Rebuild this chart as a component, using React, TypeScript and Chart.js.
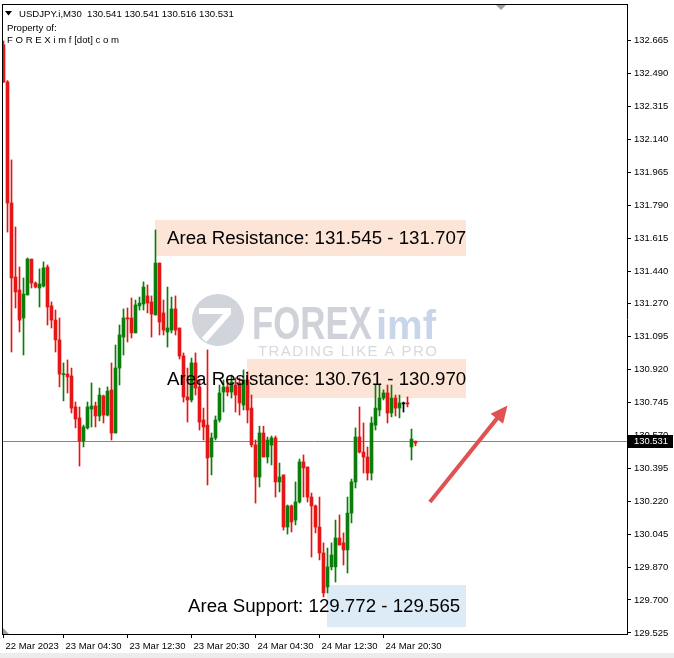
import React, { useEffect, useRef } from 'react';
import { Chart, registerables } from 'chart.js';

Chart.register(...registerables);

// ---------- DATA ----------
const symbolTitle = 'USDJPY.i,M30';
const lastQuote = ['130.541', '130.541', '130.516', '130.531'];
const propertyLines = ['Property of:', 'F O R E X i m f [dot] c o m'];

const opens = [
  132.639, 132.443, 131.802, 131.410, 131.341, 131.193, 131.315, 131.505, 131.378, 131.352,
  131.362, 131.463, 131.257, 131.182, 131.077, 130.893, 130.896, 130.886, 130.722, 130.664,
  130.542, 130.611, 130.711, 130.727, 130.674, 130.780, 130.679, 130.812, 130.584, 130.928,
  131.092, 131.193, 131.193, 131.114, 131.257, 131.267, 131.310, 131.278, 131.209, 131.484,
  131.220, 131.119, 131.129, 131.241, 131.140, 130.992, 130.775, 130.759, 130.955, 130.828,
  130.653, 130.626, 130.457, 130.558, 130.653, 130.801, 130.828, 130.801, 130.838, 130.849,
  130.732, 130.865, 130.716, 130.521, 130.351, 130.584, 130.457, 130.520, 130.558, 130.325,
  130.362, 130.086, 130.198, 130.123, 130.219, 130.431, 130.404, 130.245, 130.198, 130.086,
  129.949, 129.769, 129.875, 129.875, 130.028, 130.002, 129.965, 130.160, 130.325, 130.563,
  130.483, 130.457, 130.372, 130.626, 130.706, 130.769, 130.796, 130.690, 130.769, 130.716,
  130.738, 130.743, 130.510, 130.541,
];
const highs = [
  132.660, 132.450, 132.030, 131.675, 131.463, 131.405, 131.511, 131.505, 131.384, 131.453,
  131.490, 131.474, 131.278, 131.235, 131.193, 130.955, 130.971, 130.928, 130.748, 130.722,
  130.626, 130.748, 130.849, 130.748, 130.822, 130.785, 130.828, 130.955, 131.050, 131.156,
  131.241, 131.246, 131.299, 131.288, 131.304, 131.384, 131.368, 131.310, 131.659, 131.484,
  131.288, 131.357, 131.304, 131.310, 131.140, 131.008, 130.928, 130.981, 131.008, 130.865,
  130.716, 131.024, 130.584, 130.674, 130.838, 130.865, 130.865, 130.891, 130.875, 130.875,
  130.918, 130.907, 130.785, 130.547, 130.620, 130.620, 130.563, 130.568, 130.568, 130.425,
  130.362, 130.203, 130.203, 130.325, 130.446, 130.468, 130.404, 130.266, 130.203, 130.245,
  130.002, 129.975, 130.002, 130.123, 130.150, 130.055, 130.245, 130.340, 130.611, 130.722,
  130.637, 130.510, 130.669, 130.838, 130.838, 130.812, 130.838, 130.838, 130.785, 130.785,
  130.748, 130.775, 130.605, 130.541,
];
const lows = [
  132.440, 131.648, 131.013, 131.246, 131.119, 130.997, 131.315, 131.352, 131.352, 131.251,
  131.357, 131.156, 131.140, 131.013, 130.828, 130.754, 130.796, 130.690, 130.611, 130.409,
  130.510, 130.605, 130.616, 130.616, 130.648, 130.637, 130.674, 130.547, 130.584, 130.838,
  130.997, 131.066, 131.087, 131.114, 131.235, 131.235, 131.220, 131.092, 131.209, 131.103,
  131.103, 131.039, 131.114, 131.103, 130.976, 130.748, 130.642, 130.748, 130.785, 130.600,
  130.547, 130.309, 130.362, 130.547, 130.642, 130.695, 130.780, 130.769, 130.695, 130.679,
  130.706, 130.637, 130.510, 130.213, 130.298, 130.457, 130.425, 130.415, 130.245, 130.272,
  130.070, 130.049, 130.060, 130.097, 130.213, 130.245, 130.219, 129.927, 130.055, 129.912,
  129.716, 129.737, 129.859, 129.795, 129.991, 129.885, 129.843, 130.108, 130.293, 130.478,
  130.372, 130.335, 130.335, 130.600, 130.674, 130.759, 130.637, 130.669, 130.674, 130.664,
  130.695, 130.722, 130.441, 130.516,
];
const closes = [
  132.443, 131.802, 131.405, 131.331, 131.182, 131.320, 131.505, 131.378, 131.357, 131.373,
  131.458, 131.251, 131.182, 131.077, 130.896, 130.896, 130.881, 130.716, 130.658, 130.542,
  130.616, 130.722, 130.727, 130.674, 130.785, 130.679, 130.806, 130.584, 130.928, 131.103,
  131.193, 131.188, 131.114, 131.262, 131.272, 131.357, 131.272, 131.214, 131.484, 131.172,
  131.129, 131.140, 131.241, 131.129, 130.992, 130.775, 130.759, 130.955, 130.822, 130.642,
  130.616, 130.452, 130.558, 130.653, 130.796, 130.828, 130.801, 130.854, 130.785, 130.743,
  130.865, 130.706, 130.521, 130.351, 130.584, 130.457, 130.547, 130.558, 130.325, 130.351,
  130.086, 130.198, 130.113, 130.219, 130.431, 130.399, 130.245, 130.198, 130.086, 129.949,
  129.737, 129.875, 129.938, 130.028, 129.991, 129.965, 130.160, 130.325, 130.563, 130.483,
  130.457, 130.372, 130.637, 130.716, 130.769, 130.796, 130.690, 130.769, 130.716, 130.743,
  130.738, 130.738, 130.552, 130.531,
];

const yTickValues = [
  129.525, 129.700, 129.870, 130.045, 130.220, 130.395, 130.570, 130.745, 130.920, 131.095,
  131.270, 131.440, 131.615, 131.790, 131.965, 132.140, 132.315, 132.490, 132.665,
];
const xTickBars = [0, 15, 31, 47, 63, 79, 95];
const xTickLabels = ['22 Mar 2023', '23 Mar 04:30', '23 Mar 12:30', '23 Mar 20:30', '24 Mar 04:30', '24 Mar 12:30', '24 Mar 20:30'];

const zoneLabels = ['Area Resistance: 131.545 - 131.707', 'Area Resistance: 130.761 - 130.970', 'Area Support: 129.772 - 129.565'];
const zoneTops = [131.712, 130.976, 129.779];
const zoneBottoms = [131.521, 130.769, 129.556];
const zoneKinds = ['resistance', 'resistance', 'support'];

// arrow (bar index, price)
const arrowFrom = [106.6, 130.219];
const arrowTo = [126.0, 130.730];

// ---------- LAYOUT / STYLE ----------
const W = 674;
const H = 658;
const PLOT_LEFT = 2;
const PLOT_TOP = 4;
const AXIS_W = 47;
const AXIS_H = 24;
const X_MIN = -0.375;
const X_MAX = X_MIN + (W - AXIS_W - PLOT_LEFT) / 4;
const Y_MIN = 129.5197;
const Y_MAX = 132.8557;
const zoneLayout = [
  { from: 37.875, to: 115.625, text: 40.875 },
  { from: 60.875, to: 115.625, text: 40.875 },
  { from: 80.875, to: 115.625, text: 46.125 },
];
const UP = '#0b7d0b';
const DOWN = '#e51616';
const DOJI = '#000000';
const RESIST_FILL = '#fce4d6';
const SUPPORT_FILL = '#ddebf7';
const FONT = '"Liberation Sans", Arial, sans-serif';

const candleColors = opens.map((o, i) => (closes[i] > o ? UP : closes[i] < o ? DOWN : DOJI));

function drawWatermark(ctx: CanvasRenderingContext2D) {
  ctx.save();
  ctx.fillStyle = '#d2d4dc';
  ctx.beginPath();
  ctx.arc(218, 320, 26, 0, Math.PI * 2);
  ctx.fill();
  ctx.strokeStyle = '#ffffff';
  ctx.lineWidth = 6;
  ctx.beginPath();
  ctx.moveTo(199, 311);
  ctx.lineTo(231, 311);
  ctx.stroke();
  ctx.beginPath();
  ctx.moveTo(229, 312);
  ctx.lineTo(204, 340);
  ctx.stroke();
  ctx.fillStyle = '#d0d2da';
  ctx.font = `bold 47px ${FONT}`;
  ctx.textBaseline = 'alphabetic';
  ctx.save();
  ctx.translate(252, 339);
  ctx.scale(0.74, 1);
  ctx.fillText('FOREX', 0, 0);
  ctx.restore();
  ctx.fillStyle = '#c9d5ea';
  ctx.font = `bold 40px ${FONT}`;
  ctx.fillText('imf', 376, 339);
  ctx.fillStyle = '#d6d9de';
  ctx.font = `15px ${FONT}`;
  (ctx as any).letterSpacing = '1.4px';
  ctx.fillText('TRADING LIKE A PRO', 258, 356);
  ctx.restore();
}

const decorPlugin = {
  id: 'mt4decor',
  beforeDatasetsDraw(chart: any) {
    const { ctx, chartArea: a, scales } = chart;
    const xs = scales.x;
    const ys = scales.y;
    ctx.save();
    ctx.beginPath();
    ctx.rect(a.left, a.top, a.right - a.left, a.bottom - a.top);
    ctx.clip();
    drawWatermark(ctx);
    for (let i = 0; i < zoneLabels.length; i++) {
      const x0 = xs.getPixelForValue(zoneLayout[i].from);
      const x1 = xs.getPixelForValue(zoneLayout[i].to);
      const y0 = ys.getPixelForValue(zoneTops[i]);
      const y1 = ys.getPixelForValue(zoneBottoms[i]);
      ctx.fillStyle = zoneKinds[i] === 'support' ? SUPPORT_FILL : RESIST_FILL;
      ctx.fillRect(x0, y0, x1 - x0, y1 - y0);
    }
    const py = Math.round(ys.getPixelForValue(closes[closes.length - 1])) - 1.5;
    ctx.strokeStyle = '#778899';
    ctx.lineWidth = 1;
    ctx.beginPath();
    ctx.moveTo(a.left, py);
    ctx.lineTo(a.right, py);
    ctx.stroke();
    ctx.restore();
  },
  afterDatasetsDraw(chart: any) {
    const { ctx, scales } = chart;
    const xs = scales.x;
    const ys = scales.y;
    ctx.save();
    ctx.fillStyle = '#000';
    ctx.font = `18.7px ${FONT}`;
    ctx.textBaseline = 'middle';
    ctx.textAlign = 'left';
    for (let i = 0; i < zoneLabels.length; i++) {
      const tx = xs.getPixelForValue(zoneLayout[i].text);
      const ty = (ys.getPixelForValue(zoneTops[i]) + ys.getPixelForValue(zoneBottoms[i])) / 2 + 1;
      ctx.fillText(zoneLabels[i], tx, ty);
    }
    const ax0 = xs.getPixelForValue(arrowFrom[0]);
    const ay0 = ys.getPixelForValue(arrowFrom[1]);
    const ax1 = xs.getPixelForValue(arrowTo[0]);
    const ay1 = ys.getPixelForValue(arrowTo[1]);
    const ang = Math.atan2(ay1 - ay0, ax1 - ax0);
    const headLen = 17;
    const headW = 8;
    const bx = ax1 - headLen * Math.cos(ang);
    const by = ay1 - headLen * Math.sin(ang);
    ctx.strokeStyle = '#e05252';
    ctx.fillStyle = '#e05252';
    ctx.lineWidth = 4;
    ctx.lineCap = 'butt';
    ctx.beginPath();
    ctx.moveTo(ax0, ay0);
    ctx.lineTo(bx + 2 * Math.cos(ang), by + 2 * Math.sin(ang));
    ctx.stroke();
    ctx.beginPath();
    ctx.moveTo(ax1, ay1);
    ctx.lineTo(bx + headW * Math.sin(ang), by - headW * Math.cos(ang));
    ctx.lineTo(bx - headW * Math.sin(ang), by + headW * Math.cos(ang));
    ctx.closePath();
    ctx.fill();
    ctx.fillStyle = '#000';
    ctx.beginPath();
    ctx.moveTo(5, 11);
    ctx.lineTo(12, 11);
    ctx.lineTo(8.5, 15.5);
    ctx.closePath();
    ctx.fill();
    ctx.font = `9.6px ${FONT}`;
    ctx.textBaseline = 'alphabetic';
    ctx.fillText(`${symbolTitle}  ${lastQuote.join(' ')}`, 19, 17);
    ctx.fillText(propertyLines[0], 7, 31);
    ctx.fillText(propertyLines[1], 7, 43);
    ctx.restore();
  },
  afterDraw(chart: any) {
    const { ctx, chartArea: a, scales } = chart;
    const ys = scales.y;
    ctx.save();
    ctx.strokeStyle = '#000';
    ctx.lineWidth = 1;
    ctx.beginPath();
    ctx.moveTo(a.left + 0.5, a.top);
    ctx.lineTo(a.left + 0.5, a.bottom);
    ctx.moveTo(a.left, a.top + 0.5);
    ctx.lineTo(a.right + 1, a.top + 0.5);
    ctx.stroke();
    const py = Math.round(ys.getPixelForValue(closes[closes.length - 1])) - 2;
    ctx.fillStyle = '#000';
    ctx.fillRect(a.right + 1, py - 6, 45, 13);
    ctx.fillStyle = '#fff';
    ctx.font = `9.4px ${FONT}`;
    ctx.textBaseline = 'middle';
    ctx.fillText(lastQuote[3], a.right + 7, py + 0.5);
    ctx.fillStyle = '#9aa0a8';
    ctx.beginPath();
    ctx.moveTo(496, a.top + 1);
    ctx.lineTo(506, a.top + 1);
    ctx.lineTo(501, a.top + 6);
    ctx.closePath();
    ctx.fill();
    ctx.beginPath();
    ctx.moveTo(a.left + 1, a.bottom - 6);
    ctx.lineTo(a.left + 1, a.bottom);
    ctx.lineTo(a.left + 7, a.bottom);
    ctx.closePath();
    ctx.fill();
    ctx.fillStyle = '#ececec';
    ctx.fillRect(0, 653, W, H - 653);
    ctx.restore();
  },
};

export default function App() {
  const ref = useRef<HTMLCanvasElement | null>(null);
  useEffect(() => {
    const canvas = ref.current;
    if (!canvas) return;
    const idx = opens.map((_, i) => i);
    const chart = new Chart(canvas, {
      type: 'bar',
      data: {
        datasets: [
          {
            label: 'body',
            data: idx.map((i) => ({ x: i, y: [opens[i], closes[i]] })) as any,
            backgroundColor: candleColors,
            barThickness: 3,
            minBarLength: 1,
            grouped: false,
            borderWidth: 0,
          } as any,
          {
            label: 'wick',
            data: idx.map((i) => ({ x: i, y: [lows[i], highs[i]] })) as any,
            backgroundColor: candleColors,
            barThickness: 1,
            grouped: false,
            borderWidth: 0,
          } as any,
        ],
      },
      options: {
        animation: false,
        responsive: false,
        events: [],
        layout: { padding: { left: PLOT_LEFT, top: PLOT_TOP, right: 0, bottom: 0 } },
        plugins: { legend: { display: false }, tooltip: { enabled: false } },
        scales: {
          x: {
            type: 'linear',
            min: X_MIN,
            max: X_MAX,
            offset: false,
            afterBuildTicks: (s: any) => {
              s.ticks = xTickBars.map((v) => ({ value: v }));
            },
            afterFit: (s: any) => {
              s.height = AXIS_H;
              s.paddingLeft = 0;
              s.paddingRight = 0;
            },
            ticks: {
              autoSkip: false,
              maxRotation: 0,
              minRotation: 0,
              align: 'start',
              labelOffset: 2,
              padding: 3,
              color: '#000',
              font: { family: FONT, size: 9.5 },
              callback: (v: any) => {
                const k = xTickBars.indexOf(Number(v));
                return k >= 0 ? xTickLabels[k] : '';
              },
            },
            grid: { drawOnChartArea: false, drawTicks: true, tickLength: 4, color: '#000', offset: false },
            border: { display: true, color: '#000' },
          },
          y: {
            type: 'linear',
            position: 'right',
            min: Y_MIN,
            max: Y_MAX,
            afterBuildTicks: (s: any) => {
              s.ticks = yTickValues.map((v) => ({ value: v }));
            },
            afterFit: (s: any) => {
              s.width = AXIS_W;
              s.paddingTop = 0;
              s.paddingBottom = 0;
            },
            ticks: {
              padding: 3,
              color: '#000',
              font: { family: FONT, size: 9.5 },
              callback: (v: any) => Number(v).toFixed(3),
            },
            grid: { drawOnChartArea: false, drawTicks: true, tickLength: 4, color: '#000' },
            border: { display: true, color: '#000' },
          },
        },
      } as any,
      plugins: [decorPlugin],
    });
    return () => chart.destroy();
  }, []);
  return (
    <div style={{ position: 'fixed', left: 0, top: 0, width: W, height: H, background: '#fff' }}>
      <canvas ref={ref} width={W} height={H} style={{ display: 'block', width: W, height: H }} />
    </div>
  );
}
